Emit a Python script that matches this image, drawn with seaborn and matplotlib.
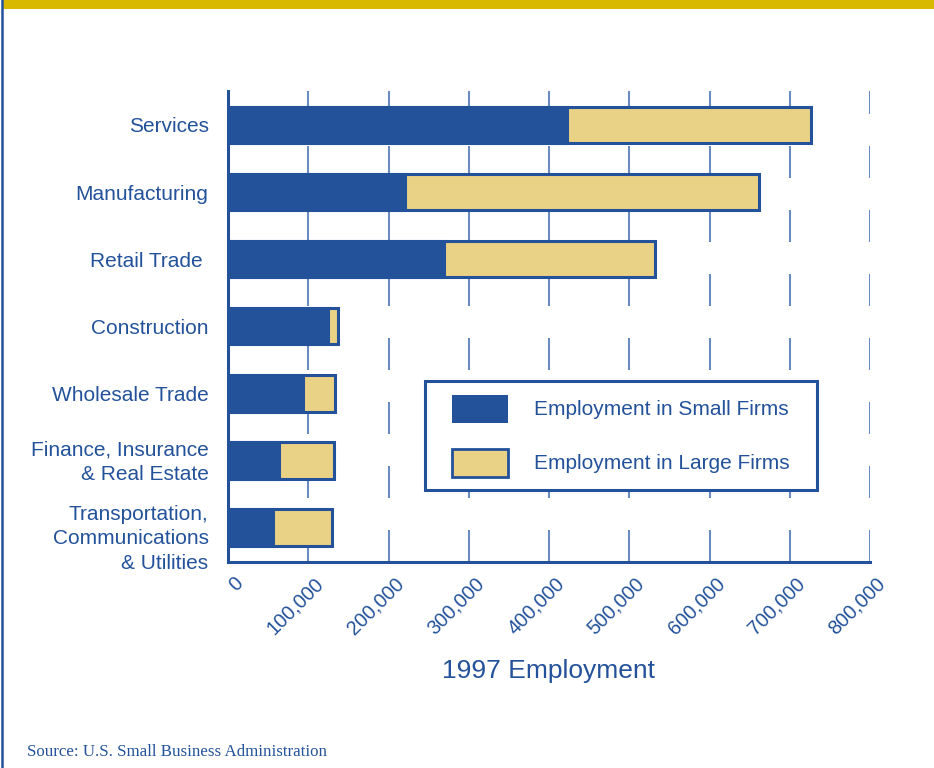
import matplotlib
matplotlib.use('Agg')
import matplotlib.pyplot as plt
import matplotlib.transforms as mtransforms
from matplotlib.patches import Rectangle, Patch
from matplotlib.legend_handler import HandlerPatch
from matplotlib.lines import Line2D
import seaborn as sns
import pandas as pd

# ---- data ----
categories = ["Services", "Manufacturing", "Retail Trade ", "Construction", "Wholesale Trade",
              "Finance, Insurance\n& Real Estate",
              "Transportation,\nCommunications\n& Utilities"]
small_firms = [422000, 220000, 269000, 125000, 94000, 64000, 56000]
large_firms = [305000, 442000, 263000, 11500, 39000, 68500, 73500]
x_ticks = [0, 100000, 200000, 300000, 400000, 500000, 600000, 700000, 800000]
x_tick_labels = ["0", "100,000", "200,000", "300,000", "400,000", "500,000",
                 "600,000", "700,000", "800,000"]
series_labels = ["Employment in Small Firms", "Employment in Large Firms"]
x_title = "1997 Employment"
source_text = "Source: U.S. Small Business Administration"

sns.set_theme(style='white')
plt.rcParams['font.family'] = ['Liberation Sans', 'DejaVu Sans']
plt.rcParams['lines.scale_dashes'] = False

BLUE = '#23529a'
YELLOW = '#e9d186'
GRID = '#6b8cc1'
GOLD = '#d9b800'

df = pd.DataFrame({'Industry': categories, 'Small': small_firms, 'Large': large_firms})
df['Total'] = df['Small'] + df['Large']

W, H = 934, 768
fig = plt.figure(figsize=(W / 100, H / 100), dpi=100)
fig.patch.set_facecolor('white')
ax = fig.add_axes([228 / W, 1 - 562 / H, (870 - 228) / W, (562 - 91) / H])

sns.barplot(data=df, x='Total', y='Industry', orient='h', color=YELLOW, saturation=1,
            edgecolor=BLUE, linewidth=2.2, width=0.55, errorbar=None, ax=ax, zorder=3)
sns.barplot(data=df, x='Small', y='Industry', orient='h', color=BLUE, saturation=1,
            edgecolor=BLUE, linewidth=2.2, width=0.55, errorbar=None, ax=ax, zorder=3)

ax.set_xlim(0, 800000)
ax.set_ylim(6.52, -0.507)
ax.set_xticks(x_ticks)
ax.set_xticklabels(x_tick_labels)
ax.set_axisbelow(True)
ax.xaxis.grid(True, color=GRID, linewidth=1.5, linestyle=(0, (23.04, 23.04)))
ax.yaxis.grid(False)
for s in ['top', 'right']:
    ax.spines[s].set_visible(False)
for s in ['left', 'bottom']:
    ax.spines[s].set_color(BLUE)
    ax.spines[s].set_linewidth(2.2)
ax.tick_params(axis='both', length=0)
ax.tick_params(axis='y', pad=14, labelsize=15, labelcolor=BLUE)
ax.tick_params(axis='x', pad=6, labelsize=14.3, labelcolor=BLUE)
for lab in ax.get_yticklabels():
    lab.set_linespacing(1.37)
xoff = mtransforms.ScaledTranslation(12 / 100, -10 / 100, fig.dpi_scale_trans)
for lab in ax.get_xticklabels():
    lab.set_rotation(45)
    lab.set_ha('right')
    lab.set_va('center')
    lab.set_rotation_mode('anchor')
    lab.set_transform(lab.get_transform() + xoff)
ax.set_ylabel('')
ax.set_xlabel(x_title, fontsize=19, color=BLUE, labelpad=15)

# legend
def make_rect(legend, orig_handle, xdescent, ydescent, width, height, fontsize):
    off = 9.7
    return Rectangle((-xdescent + off, -ydescent), width - off, height)

handles = [Patch(facecolor=BLUE, edgecolor=BLUE, linewidth=0),
           Patch(facecolor=YELLOW, edgecolor=BLUE, linewidth=2.0)]
leg = ax.legend(handles, series_labels, loc='upper left',
                bbox_to_anchor=(425 / W, 1 - 490 / H, 392 / W, 109 / H),
                bbox_transform=fig.transFigure, mode='expand', borderaxespad=0,
                fontsize=15, borderpad=0.65, handlelength=3.33, handleheight=1.695,
                handletextpad=1.25, labelspacing=1.25, fancybox=False, framealpha=1,
                handler_map={Patch: HandlerPatch(patch_func=make_rect)})
for t in leg.get_texts():
    t.set_color(BLUE)
fr = leg.get_frame()
fr.set_edgecolor(BLUE)
fr.set_linewidth(2.2)

# fine vertical placement of the multi-line category labels, as in the original
ylabs = ax.get_yticklabels()
ylabs[-2].set_transform(ylabs[-2].get_transform() + mtransforms.ScaledTranslation(0, 3 / 100, fig.dpi_scale_trans))
ylabs[-1].set_transform(ylabs[-1].get_transform() + mtransforms.ScaledTranslation(0, -7 / 100, fig.dpi_scale_trans))

# decorations
fig.patches.append(Rectangle((3 / W, 1 - 9 / H), 1, 9 / H, transform=fig.transFigure,
                             facecolor=GOLD, edgecolor='none', zorder=0))
fig.lines.append(Line2D([2.2 / W, 2.2 / W], [0, 1], transform=fig.transFigure,
                        color=BLUE, linewidth=1.8))
fig.text(27 / W, 1 - 752 / H, source_text, family='Liberation Serif', fontsize=12.2,
         color=BLUE, va='center', ha='left')

fig.savefig('out.png', dpi=100)
